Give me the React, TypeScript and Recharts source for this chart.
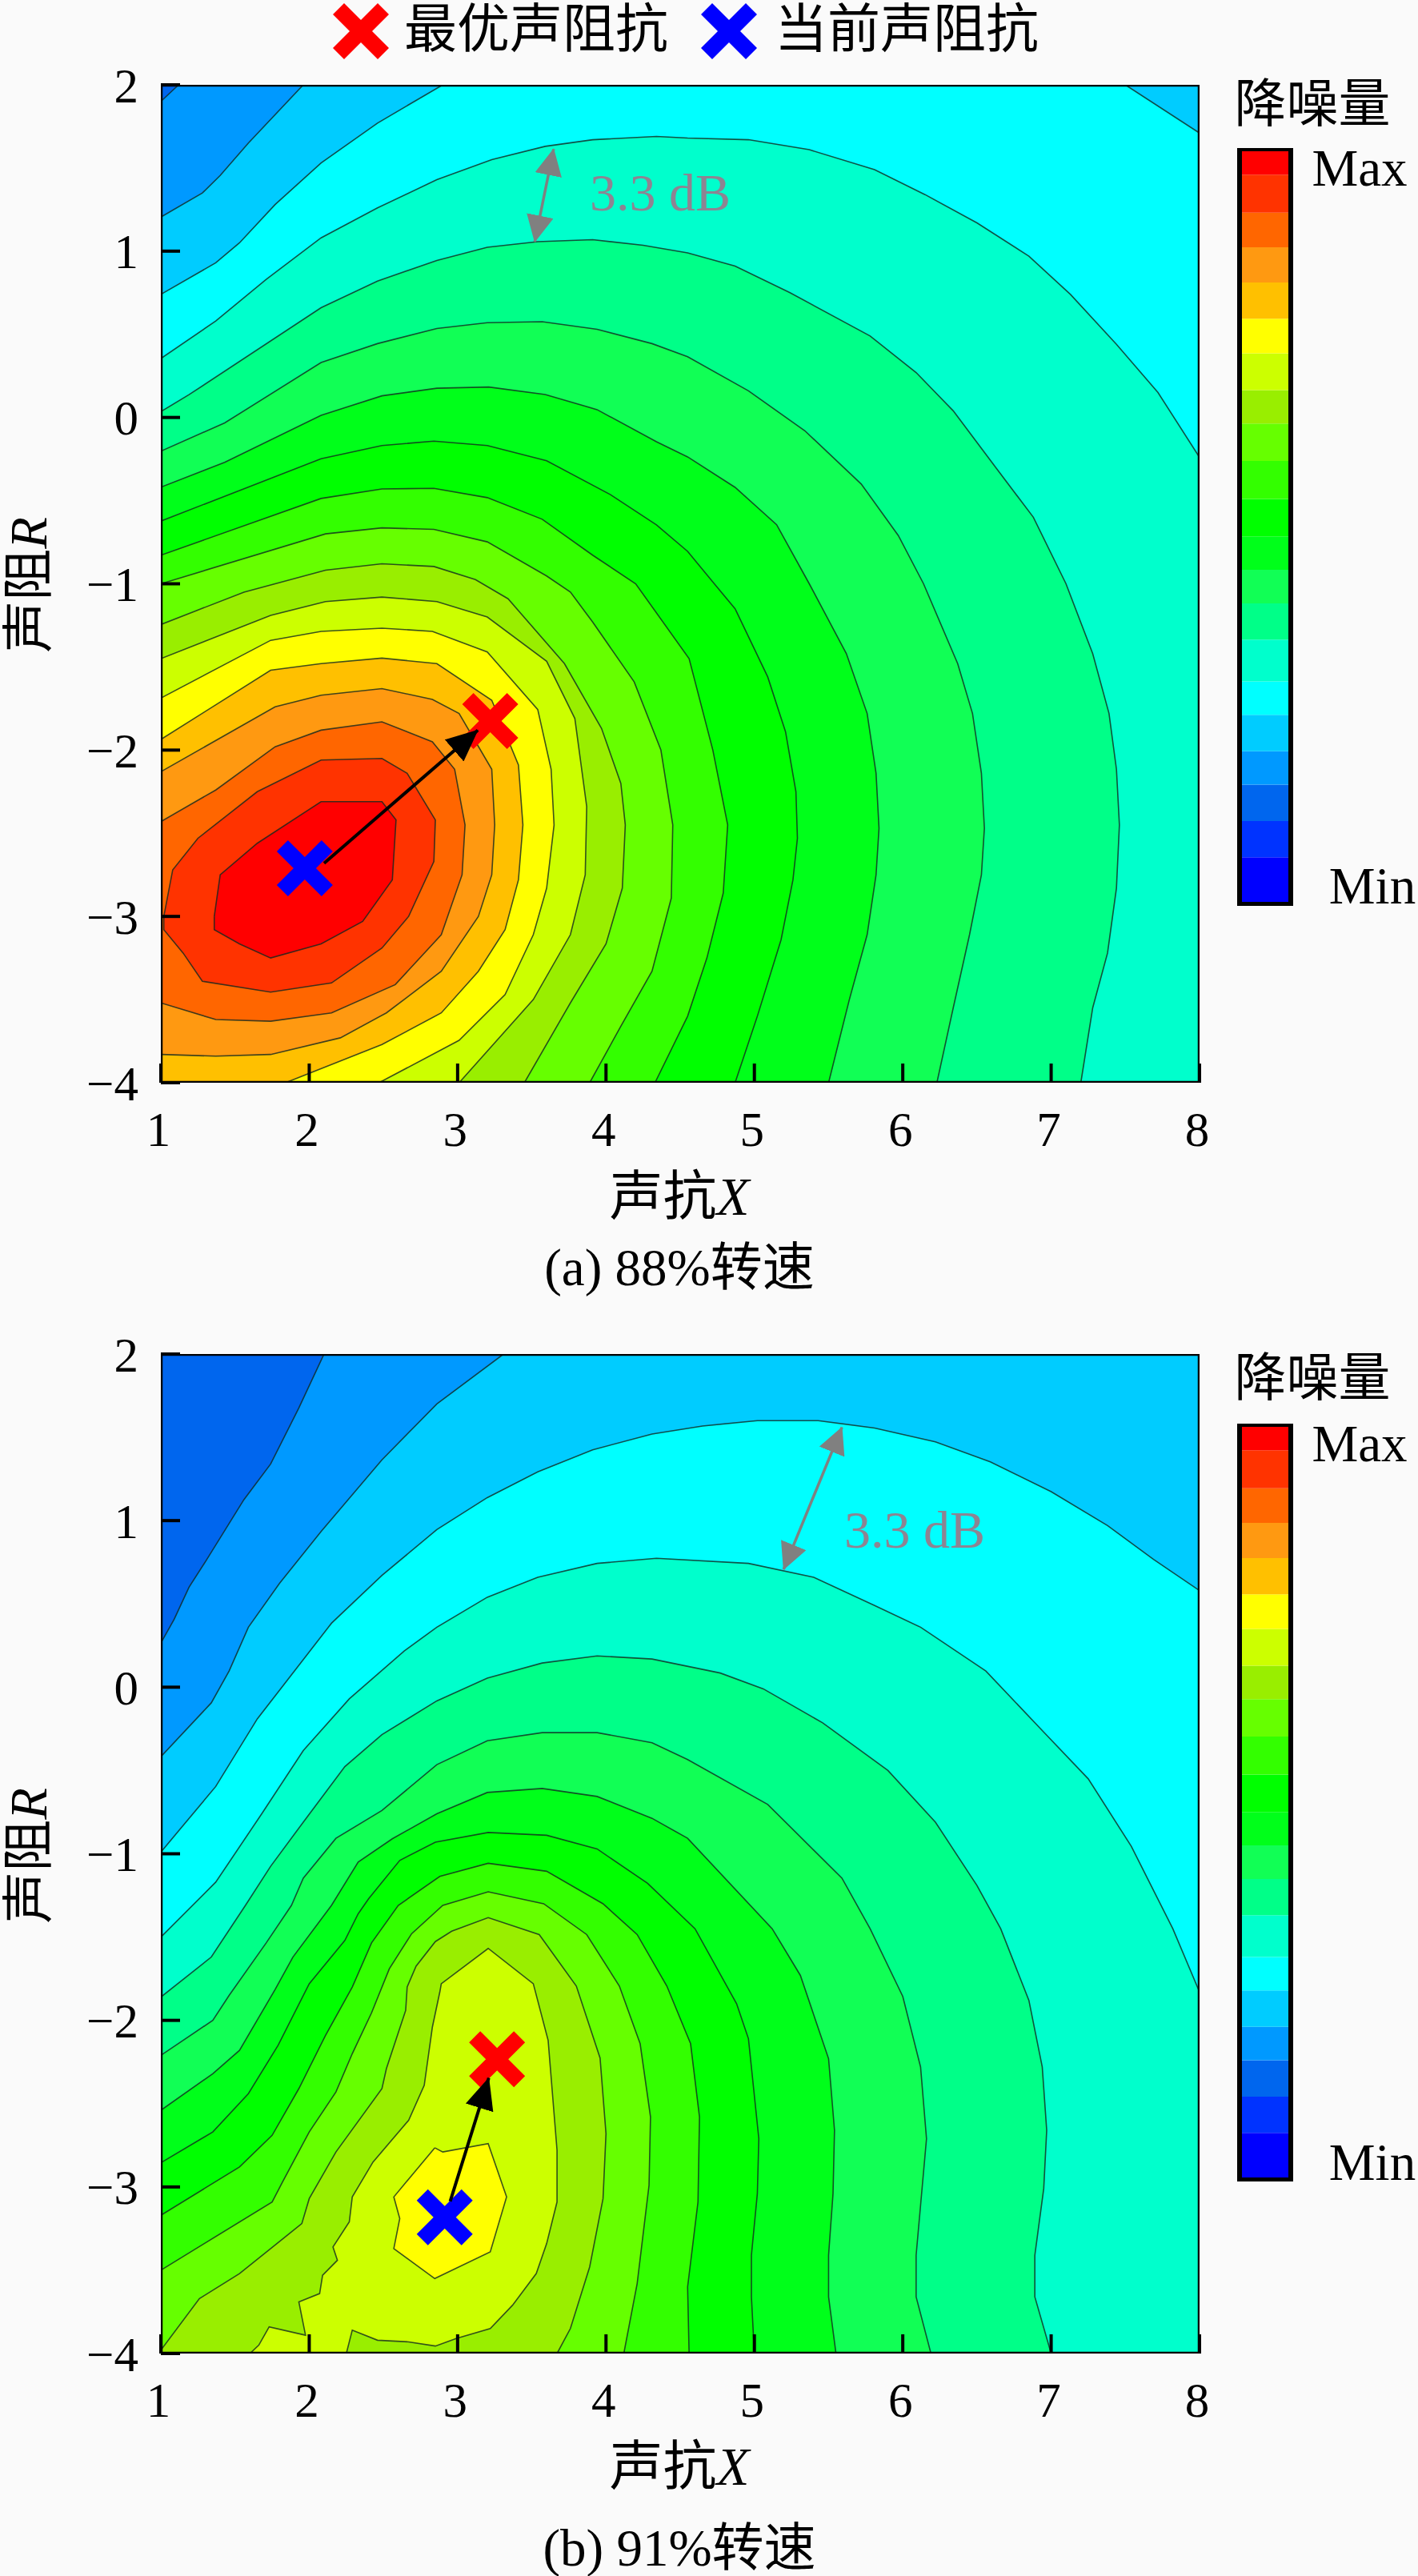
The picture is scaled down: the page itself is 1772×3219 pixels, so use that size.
import React from 'react';
import { ScatterChart, Scatter, XAxis, YAxis, BarChart, Bar } from 'recharts';

type P = number[];
const xTicks = [1, 2, 3, 4, 5, 6, 7, 8];
const yTicks = [-4, -3, -2, -1, 0, 1, 2];

const levelColors = ['#0066ee', '#0099ff', '#00ccff', '#00ffff', '#00ffcc', '#00ff88', '#11ff55', '#00ff1a', '#00ff00', '#33ff00', '#66ff00', '#99ee00', '#ccff00', '#ffff00', '#ffc000', '#ff9911', '#ff6600', '#ff3300', '#ff0000'];
const barColors = ['#0000ff', '#0033ff', ...levelColors];
const barHeights = [80, 65, 65, 60, 65, 60, 75, 65, 60, 60, 67, 68, 67, 60, 66, 62, 65, 63, 62, 68, 42];

const fullPlot: P[] = [[1, 2], [8, 2], [8, -4], [1, -4], [1, 2]];

// Panel (a): level boundaries, lowest to highest
const a0: P[] = [[1, 1.9], [1.12, 2], [8, 2], [8, -4], [1, -4]];
const a1: P[] = [[1, 1.205], [1.28, 1.35], [1.4, 1.455], [1.59, 1.65], [1.96, 2], [8, 2], [8, -4], [1, -4]];
const a2: P[] = [[1, 0.74], [1.37, 0.93], [1.53, 1.05], [1.77, 1.28], [2.08, 1.53], [2.46, 1.77], [2.9, 2], [7.5, 2], [8, 1.71], [8, -4], [1, -4]];
const a3: P[] = [[1, 0.354], [1.37, 0.58], [1.71, 0.83], [2.08, 1.08], [2.46, 1.26], [2.86, 1.43], [3.23, 1.55], [3.59, 1.63], [3.91, 1.67], [4.34, 1.69], [4.55, 1.68], [4.96, 1.67], [5.37, 1.61], [5.81, 1.49], [6.15, 1.34], [6.5, 1.17], [6.85, 0.97], [7.13, 0.74], [7.44, 0.44], [7.72, 0.15], [8, -0.24], [8, -4], [1, -4]];
const a4: P[] = [[1, 0.035], [1.19, 0.137], [2.08, 0.66], [2.46, 0.82], [2.86, 0.944], [3.2, 1.023], [3.54, 1.057], [3.91, 1.069], [4.25, 1.035], [4.55, 0.99], [4.87, 0.91], [5.24, 0.75], [5.78, 0.49], [6.09, 0.27], [6.34, 0.04], [6.63, -0.305], [6.88, -0.6], [7.1, -1], [7.28, -1.42], [7.39, -1.78], [7.44, -2.115], [7.46, -2.45], [7.44, -2.83], [7.38, -3.22], [7.28, -3.55], [7.2, -4], [1, -4]];
const a5: P[] = [[1, -0.203], [1.43, -0.033], [2.08, 0.33], [2.46, 0.444], [2.86, 0.535], [3.2, 0.57], [3.57, 0.576], [3.94, 0.53], [4.31, 0.444], [4.55, 0.365], [4.96, 0.16], [5.34, -0.08], [5.72, -0.4], [5.97, -0.71], [6.14, -1], [6.37, -1.48], [6.47, -1.78], [6.53, -2.14], [6.55, -2.47], [6.53, -2.75], [6.45, -3.11], [6.34, -3.55], [6.23, -4], [1, -4]];
const a6: P[] = [[1, -0.419], [1.43, -0.27], [2.08, 0.013], [2.49, 0.13], [2.86, 0.176], [3.21, 0.183], [3.59, 0.138], [3.94, 0.047], [4.34, -0.146], [4.55, -0.237], [4.87, -0.42], [5.15, -0.645], [5.37, -1], [5.62, -1.42], [5.76, -1.78], [5.82, -2.14], [5.84, -2.47], [5.82, -2.75], [5.76, -3.11], [5.64, -3.5], [5.5, -4], [1, -4]];
const a7: P[] = [[1, -0.623], [2.08, -0.248], [2.49, -0.169], [2.84, -0.142], [3.2, -0.169], [3.6, -0.26], [4.03, -0.464], [4.34, -0.646], [4.55, -0.805], [4.73, -1], [4.87, -1.15], [5.09, -1.56], [5.21, -1.89], [5.28, -2.25], [5.29, -2.53], [5.26, -2.78], [5.18, -3.14], [5.02, -3.6], [4.87, -4], [1, -4]];
const a8: P[] = [[1, -0.828], [2.08, -0.487], [2.49, -0.43], [2.84, -0.426], [3.2, -0.482], [3.57, -0.612], [3.91, -0.828], [4.2, -1], [4.56, -1.45], [4.72, -2], [4.82, -2.45], [4.79, -2.86], [4.68, -3.25], [4.55, -3.6], [4.33, -4], [1, -4]];
const a9: P[] = [[1, -1], [2.11, -0.7], [2.49, -0.664], [2.84, -0.673], [3.2, -0.748], [3.6, -0.953], [3.76, -1.05], [3.91, -1.23], [4.19, -1.59], [4.37, -2], [4.45, -2.45], [4.44, -2.89], [4.31, -3.33], [4.1, -3.66], [3.89, -4], [1, -4]];
const a10: P[] = [[1, -1.245], [1.56, -1.05], [2.11, -0.918], [2.49, -0.88], [2.84, -0.896], [3.12, -0.975], [3.34, -1.09], [3.72, -1.48], [3.97, -1.87], [4.1, -2.2], [4.13, -2.45], [4.11, -2.83], [4, -3.165], [3.76, -3.52], [3.45, -4], [1, -4]];
const a11: P[] = [[1, -1.45], [1.74, -1.19], [2.11, -1.107], [2.49, -1.08], [2.86, -1.107], [3.2, -1.2], [3.6, -1.466], [3.79, -1.81], [3.87, -2.34], [3.86, -2.75], [3.76, -3.11], [3.51, -3.5], [3.01, -4], [1, -4]];
const a12: P[] = [[1, -1.687], [1.74, -1.34], [2.08, -1.286], [2.49, -1.267], [2.83, -1.286], [3.2, -1.41], [3.54, -1.756], [3.63, -2.115], [3.65, -2.45], [3.6, -2.83], [3.51, -3.11], [3.32, -3.47], [3.01, -3.745], [2.47, -4], [1, -4]];
const a13: P[] = [[1, -1.936], [1.74, -1.52], [2.08, -1.48], [2.49, -1.447], [2.86, -1.48], [3.23, -1.7], [3.41, -2.09], [3.44, -2.45], [3.41, -2.78], [3.32, -3.08], [3.14, -3.33], [2.89, -3.58], [2.49, -3.77], [1.84, -4], [1, -4]];
const a14: P[] = [[1, -2.13], [1.77, -1.74], [2.08, -1.67], [2.49, -1.63], [2.83, -1.695], [3.01, -1.78], [3.23, -2.115], [3.25, -2.45], [3.23, -2.75], [3.14, -3], [2.89, -3.33], [2.52, -3.58], [2.21, -3.73], [1.74, -3.83], [1.37, -3.84], [1, -3.83]];
const a15: P[] = [[1, -2.43], [1.37, -2.24], [1.77, -1.98], [2.08, -1.88], [2.49, -1.83], [2.83, -1.95], [2.98, -2.115], [3.05, -2.45], [3.03, -2.75], [2.89, -3.11], [2.58, -3.41], [2.15, -3.58], [1.74, -3.63], [1.37, -3.62], [1, -3.52]];
const a16: P[] = [[1.02, -3], [1.08, -2.72], [1.25, -2.53], [1.65, -2.25], [2.08, -2.06], [2.49, -2.05], [2.66, -2.14], [2.85, -2.42], [2.84, -2.67], [2.67, -3], [2.49, -3.19], [2.15, -3.4], [1.74, -3.455], [1.28, -3.39], [1.15, -3.22], [1.02, -3.08], [1.02, -3]];
const a17: P[] = [[1.36, -3], [1.4, -2.75], [1.65, -2.56], [2.08, -2.31], [2.49, -2.31], [2.585, -2.42], [2.56, -2.78], [2.36, -3.03], [2.08, -3.165], [1.74, -3.25], [1.53, -3.165], [1.36, -3.08], [1.36, -3]];
const panelA = [fullPlot, a0, a1, a2, a3, a4, a5, a6, a7, a8, a9, a10, a11, a12, a13, a14, a15, a16, a17];

// Panel (b): level boundaries, lowest to highest
const b1: P[] = [[1, 0.265], [1.09, 0.408], [1.19, 0.6], [1.31, 0.767], [1.56, 1.126], [1.74, 1.34], [1.93, 1.676], [2.1, 2], [8, 2], [8, -4], [1, -4]];
const b2: P[] = [[1, -0.417], [1.34, -0.094], [1.46, 0.097], [1.59, 0.36], [1.8, 0.624], [2.08, 0.935], [2.49, 1.365], [2.86, 1.7], [3.31, 2], [8, 2], [8, -4], [1, -4]];
const b3: P[] = [[1, -0.99], [1.37, -0.596], [1.65, -0.19], [2.15, 0.384], [2.49, 0.671], [2.86, 0.946], [3.2, 1.138], [3.54, 1.293], [3.91, 1.425], [4.31, 1.52], [4.65, 1.568], [5.02, 1.6], [5.43, 1.6], [5.81, 1.556], [6.22, 1.473], [6.59, 1.353], [7, 1.174], [7.38, 0.97], [7.69, 0.767], [8, 0.58], [8, -4], [1, -4]];
const b4: P[] = [[1, -1.5], [1.37, -1.17], [1.68, -0.76], [1.96, -0.38], [2.27, -0.07], [2.64, 0.217], [2.86, 0.36], [3.2, 0.54], [3.54, 0.66], [3.94, 0.743], [4.34, 0.774], [4.96, 0.743], [5.4, 0.66], [5.81, 0.49], [6.12, 0.36], [6.56, 0.097], [6.94, -0.26], [7.25, -0.55], [7.54, -0.955], [7.82, -1.45], [8, -1.83], [8, -4], [1, -4]];
const b5: P[] = [[1, -1.86], [1.34, -1.62], [1.57, -1.31], [1.74, -1.075], [1.96, -0.81], [2.24, -0.477], [2.49, -0.285], [2.86, -0.082], [3.2, 0.054], [3.57, 0.145], [3.94, 0.188], [4.31, 0.169], [4.77, 0.085], [5.06, -0.01], [5.46, -0.214], [5.9, -0.5], [6.22, -0.81], [6.5, -1.19], [6.66, -1.45], [6.85, -1.88], [6.94, -2.28], [6.97, -2.66], [6.95, -3.01], [6.89, -3.41], [6.89, -3.66], [7, -4], [1, -4]];
const b6: P[] = [[1, -2.21], [1.35, -2], [1.46, -1.85], [1.71, -1.535], [1.88, -1.31], [1.96, -1.146], [2.18, -0.907], [2.49, -0.74], [2.86, -0.465], [3.2, -0.321], [3.57, -0.273], [3.94, -0.273], [4.31, -0.333], [4.55, -0.434], [5.09, -0.704], [5.59, -1.146], [5.78, -1.45], [6, -1.856], [6.12, -2.28], [6.16, -2.71], [6.12, -3.11], [6.09, -3.41], [6.09, -3.66], [6.19, -4], [1, -4]];
const b7: P[] = [[1, -2.54], [1.35, -2.32], [1.53, -2.18], [1.77, -1.815], [1.89, -1.62], [2.15, -1.31], [2.33, -1.05], [2.56, -0.91], [2.86, -0.76], [3.2, -0.632], [3.57, -0.608], [3.94, -0.656], [4.31, -0.787], [4.55, -0.907], [5.12, -1.45], [5.31, -1.73], [5.5, -2.23], [5.54, -2.66], [5.53, -3.04], [5.5, -3.41], [5.5, -3.66], [5.55, -4], [1, -4]];
const b8: P[] = [[1, -2.855], [1.35, -2.67], [1.59, -2.44], [1.79, -2.15], [2, -1.78], [2.24, -1.52], [2.33, -1.36], [2.4, -1.27], [2.61, -1.04], [2.85, -0.93], [3.206, -0.872], [3.6, -0.889], [3.94, -0.971], [4.28, -1.177], [4.6, -1.45], [4.88, -1.9], [4.96, -2.11], [5.03, -2.71], [5.02, -3.04], [4.98, -3.41], [4.98, -3.66], [5, -4], [1, -4]];
const b9: P[] = [[1, -3.17], [1.53, -2.88], [1.75, -2.69], [1.93, -2.41], [2.11, -2.09], [2.29, -1.8], [2.42, -1.535], [2.6, -1.31], [2.88, -1.136], [3.206, -1.057], [3.6, -1.105], [3.98, -1.3], [4.21, -1.485], [4.41, -1.794], [4.57, -2.14], [4.63, -2.58], [4.62, -3.09], [4.55, -3.6], [4.56, -4], [1, -4]];
const b10: P[] = [[1, -3.5], [1.75, -3.09], [1.82, -2.97], [2, -2.67], [2.18, -2.43], [2.29, -2.2], [2.42, -1.955], [2.54, -1.69], [2.69, -1.48], [2.9, -1.31], [3.206, -1.228], [3.58, -1.3], [3.87, -1.485], [4.09, -1.794], [4.23, -2.14], [4.3, -2.58], [4.29, -2.99], [4.21, -3.58], [4.12, -4], [1, -4]];
const b11: P[] = [[1, -3.98], [1.26, -3.67], [1.53, -3.52], [1.95, -3.22], [2, -3.07], [2.18, -2.79], [2.49, -2.41], [2.52, -2.29], [2.65, -1.94], [2.66, -1.8], [2.72, -1.675], [2.85, -1.527], [2.96, -1.465], [3.206, -1.383], [3.55, -1.485], [3.8, -1.794], [3.96, -2.226], [4, -2.68], [3.98, -3.07], [3.89, -3.48], [3.76, -3.85], [3.67, -4], [1, -4]];
const b12: P[] = [[1.6, -4], [1.66, -3.95], [1.73, -3.84], [1.975, -3.89], [1.93, -3.69], [2.07, -3.64], [2.09, -3.53], [2.19, -3.44], [2.16, -3.36], [2.27, -3.21], [2.29, -3.06], [2.43, -2.85], [2.67, -2.6], [2.775, -2.39], [2.83, -2.04], [2.88, -1.83], [2.89, -1.78], [3.206, -1.568], [3.51, -1.78], [3.61, -2.12], [3.67, -2.78], [3.67, -3.09], [3.6, -3.34], [3.53, -3.52], [3.37, -3.71], [3.22, -3.85], [2.99, -3.91], [2.85, -3.955], [2.67, -3.93], [2.46, -3.92], [2.29, -3.86], [2.25, -4]];
const b13: P[] = [[2.846, -2.765], [2.9, -2.79], [3.206, -2.74], [3.33, -3.06], [3.22, -3.39], [2.846, -3.55], [2.57, -3.37], [2.61, -3.19], [2.57, -3.06], [2.846, -2.765]];
const panelB = [fullPlot, b1, b2, b3, b4, b5, b6, b7, b8, b9, b10, b11, b12, b13];

const aOptimum: P = [3.22, -1.825];
const aCurrent: P = [1.97, -2.71];
const aMove: P[] = [[2.1, -2.68], [3.136, -1.88]];
const aSpan: P[] = [[3.52, 1.057], [3.647, 1.614]];
const bOptimum: P = [3.266, -2.233];
const bCurrent: P = [2.913, -3.182];
const bMove: P[] = [[2.95, -3.087], [3.21, -2.346]];
const bSpan: P[] = [[5.197, 0.707], [5.59, 1.56]];

const SERIF = '"Liberation Serif","Noto Sans CJK SC",serif';
const rows = (pts: P[]) => pts.map(([x, y]) => ({ x, y }));
const minus = (v: number) => String(v).replace('-', '\u2212');
const NoDot = () => <g />;

const crossPath = 'M-35,-21 L-21,-35 L0,-14 L21,-35 L35,-21 L14,0 L35,21 L21,35 L0,14 L-21,35 L-35,21 L-14,0Z';
const crossShape = (fill: string) => (props: any) => (
  <path d={crossPath} transform={`translate(${props.cx},${props.cy})`} fill={fill} />
);

const chartMargin = { top: 50, left: 101, right: 21, bottom: 20 };
const layer: any = { position: 'absolute', left: 0, top: 0 };

function Panel({ top, plotH, levels, optimum, current, move, span }: any) {
  const h = plotH + 150;
  return (
    <div style={{ position: 'absolute', left: 0, top: top - 50, width: 1520, height: h }}>
      {/* contour fills and marks */}
      <div style={layer}>
        <ScatterChart width={1520} height={h} margin={chartMargin}>
          <XAxis type="number" dataKey="x" domain={[1, 8]} ticks={xTicks} allowDataOverflow height={80} axisLine={false} tickLine={false} tick={false} />
          <YAxis type="number" dataKey="y" domain={[-4, 2]} ticks={yTicks} allowDataOverflow width={100} axisLine={false} tickLine={false} tick={false} />
          {levels.map((pts: P[], i: number) => (
            <Scatter key={i} data={rows(pts)} shape={NoDot} isAnimationActive={false} fill={levelColors[i]}
              line={i === 0
                ? { stroke: 'none', fill: levelColors[i] }
                : { stroke: '#12281f', strokeOpacity: 0.8, strokeWidth: 1.6, fill: levelColors[i] }} />
          ))}
          <Scatter data={rows(span)} shape={NoDot} isAnimationActive={false} fill="#808080"
            line={{ stroke: '#808080', strokeWidth: 3.5, markerStart: 'url(#grayHead)', markerEnd: 'url(#grayHead)' }} />
          <Scatter data={rows([optimum])} shape={crossShape('#ff0000')} isAnimationActive={false} fill="#ff0000" />
          <Scatter data={rows([current])} shape={crossShape('#0000ff')} isAnimationActive={false} fill="#0000ff" />
          <Scatter data={rows(move)} shape={NoDot} isAnimationActive={false} fill="#000"
            line={{ stroke: '#000', strokeWidth: 4, markerEnd: 'url(#blackHead)' }} />
        </ScatterChart>
      </div>
      {/* axes and frame drawn over the fills, ticks pointing inward */}
      <div style={layer}>
        <ScatterChart width={1520} height={h} margin={chartMargin}>
          <XAxis type="number" dataKey="x" domain={[1, 8]} ticks={xTicks} interval={0} allowDataOverflow height={80}
            axisLine={false} tickSize={-24} tickMargin={60} tickLine={{ stroke: '#000', strokeWidth: 4 }}
            tick={{ fill: '#000', fontSize: 61, fontFamily: SERIF, dx: -3 }} />
          <YAxis type="number" dataKey="y" domain={[-4, 2]} ticks={yTicks} interval={0} allowDataOverflow width={100}
            axisLine={false} tickSize={-24} tickMargin={52} tickFormatter={minus} tickLine={{ stroke: '#000', strokeWidth: 4 }}
            tick={{ fill: '#000', fontSize: 61, fontFamily: SERIF }} />
          <Scatter data={rows(fullPlot)} shape={NoDot} isAnimationActive={false} fill="none"
            line={{ stroke: '#000', strokeWidth: 4.5, fill: 'none', strokeLinejoin: 'miter' }} />
        </ScatterChart>
      </div>
    </div>
  );
}

function ColorBar({ top }: { top: number }) {
  const row: any = { c: 'bar' };
  barHeights.forEach((v, i) => { row['s' + i] = v; });
  const total = barHeights.reduce((s, v) => s + v, 0);
  return (
    <div style={{ position: 'absolute', left: 1546, top, width: 70, height: 947, boxSizing: 'border-box', borderStyle: 'solid', borderColor: '#000', borderWidth: '4px 6px 5px 6px' }}>
      <BarChart width={58} height={938} data={[row]} margin={{ top: 0, left: 0, right: 0, bottom: 0 }} barCategoryGap={0}>
        <XAxis dataKey="c" hide />
        <YAxis hide domain={[0, total]} allowDataOverflow />
        {barHeights.map((_, i) => (
          <Bar key={i} dataKey={'s' + i} stackId="bar" fill={barColors[i]} isAnimationActive={false} />
        ))}
      </BarChart>
    </div>
  );
}

function Label({ x, y, size = 65, color = '#000', rotate = 0, children }: any) {
  return (
    <div style={{ position: 'absolute', left: x, top: y, transform: `translate(-50%,-50%) rotate(${rotate}deg)`, fontFamily: SERIF, fontSize: size, color, lineHeight: 1, whiteSpace: 'nowrap' }}>
      {children}
    </div>
  );
}

function LegendCross({ x, y, fill }: any) {
  return (
    <svg width={72} height={72} viewBox="-36 -36 72 72" style={{ position: 'absolute', left: x - 36, top: y - 36 }}>
      <path d={crossPath} fill={fill} />
    </svg>
  );
}

const I = ({ children }: any) => <span style={{ fontStyle: 'italic' }}>{children}</span>;

export default function App() {
  return (
    <div style={{ position: 'absolute', left: 0, top: 0, width: 1772, height: 3219, background: '#fafafa', overflow: 'hidden' }}>
      <svg width={0} height={0} style={{ position: 'absolute' }}>
        <defs>
          <marker id="blackHead" markerUnits="userSpaceOnUse" markerWidth={40} markerHeight={36} refX={39} refY={18} orient="auto-start-reverse">
            <path d="M0,0 L40,18 L0,36 Z" fill="#000" />
          </marker>
          <marker id="grayHead" markerUnits="userSpaceOnUse" markerWidth={34} markerHeight={34} refX={33} refY={17} orient="auto-start-reverse">
            <path d="M0,0 L34,17 L0,34 Z" fill="#808080" />
          </marker>
        </defs>
      </svg>

      <LegendCross x={451} y={39} fill="#ff0000" />
      <Label x={670} y={37} size={66}>最优声阻抗</Label>
      <LegendCross x={911} y={39} fill="#0000ff" />
      <Label x={1133} y={37} size={66}>当前声阻抗</Label>

      <Panel top={106} plotH={1247} levels={panelA} optimum={aOptimum} current={aCurrent} move={aMove} span={aSpan} />
      <Label x={825} y={241} size={66} color="#8d8492">3.3 dB</Label>
      <Label x={36} y={731} rotate={-90} size={65}>声阻<I>R</I></Label>
      <Label x={849} y={1495} size={67}>声抗<I>X</I></Label>
      <Label x={849} y={1584} size={65}>(a) 88%转速</Label>
      <Label x={1640} y={130}>降噪量</Label>
      <ColorBar top={185} />
      <Label x={1699} y={210}>Max</Label>
      <Label x={1715} y={1107}>Min</Label>

      <Panel top={1692} plotH={1249} levels={panelB} optimum={bOptimum} current={bCurrent} move={bMove} span={bSpan} />
      <Label x={1143} y={1912} size={66} color="#8d8492">3.3 dB</Label>
      <Label x={36} y={2319} rotate={-90} size={65}>声阻<I>R</I></Label>
      <Label x={849} y={3082} size={67}>声抗<I>X</I></Label>
      <Label x={849} y={3184} size={65}>(b) 91%转速</Label>
      <Label x={1640} y={1722}>降噪量</Label>
      <ColorBar top={1779} />
      <Label x={1699} y={1804}>Max</Label>
      <Label x={1715} y={2702}>Min</Label>
    </div>
  );
}
